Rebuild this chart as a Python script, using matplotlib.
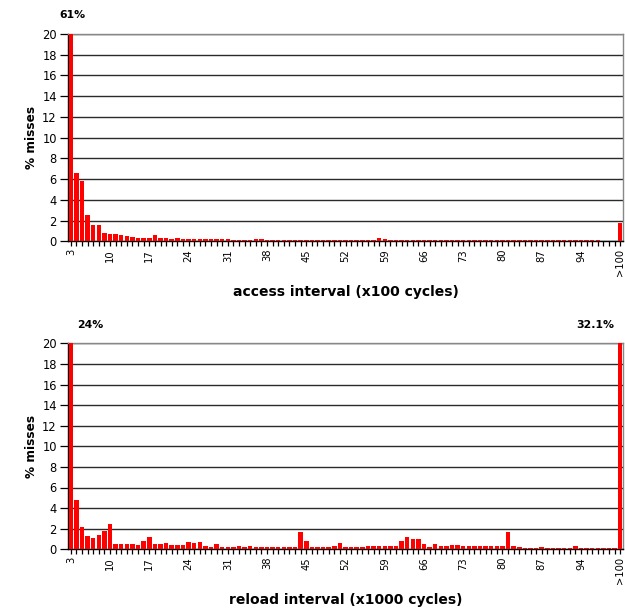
import matplotlib
matplotlib.use("Agg")
import matplotlib.pyplot as plt
import numpy as np

plt.rcParams['font.family'] = ['DejaVu Sans']

categories = [str(c) for c in range(3, 101)] + ['>100']

access_pct = [
    61, 6.6, 5.8, 2.5, 1.6, 1.6, 0.8, 0.7, 0.7, 0.6,
    0.5, 0.45, 0.35, 0.35, 0.35, 0.6, 0.3, 0.3, 0.25, 0.28,
    0.22, 0.22, 0.2, 0.2, 0.2, 0.18, 0.18, 0.18, 0.18, 0.17,
    0.15, 0.15, 0.15, 0.2, 0.2, 0.15, 0.15, 0.14, 0.14, 0.14,
    0.14, 0.13, 0.13, 0.13, 0.13, 0.13, 0.12, 0.12, 0.12, 0.12,
    0.12, 0.12, 0.12, 0.12, 0.15, 0.3, 0.2, 0.12, 0.12, 0.12,
    0.12, 0.12, 0.12, 0.12, 0.11, 0.11, 0.11, 0.11, 0.11, 0.11,
    0.11, 0.11, 0.11, 0.11, 0.1, 0.1, 0.1, 0.1, 0.1, 0.1,
    0.1, 0.1, 0.1, 0.1, 0.1, 0.1, 0.1, 0.1, 0.1, 0.1,
    0.1, 0.1, 0.1, 0.1, 0.1, 0, 0, 0, 1.8,
]

reload_pct = [
    24, 4.8, 2.2, 1.3, 1.05, 1.35, 1.75, 2.5, 0.55, 0.5,
    0.55, 0.5, 0.45, 0.8, 1.2, 0.5, 0.5, 0.65, 0.4, 0.4,
    0.45, 0.75, 0.65, 0.75, 0.35, 0.25, 0.5, 0.25, 0.25, 0.25,
    0.3, 0.25, 0.3, 0.25, 0.25, 0.25, 0.2, 0.2, 0.2, 0.2,
    0.22, 1.7, 0.8, 0.2, 0.2, 0.2, 0.2, 0.35, 0.6, 0.25,
    0.25, 0.25, 0.25, 0.3, 0.3, 0.3, 0.3, 0.3, 0.3, 0.8,
    1.2, 1.0, 1.0, 0.55, 0.25, 0.55, 0.3, 0.3, 0.4, 0.4,
    0.35, 0.35, 0.35, 0.35, 0.3, 0.3, 0.3, 0.3, 1.7, 0.35,
    0.2, 0.1, 0.1, 0.1, 0.2, 0.12, 0.12, 0.12, 0.12, 0.15,
    0.3, 0.15, 0.15, 0.12, 0.1, 0.1, 0.1, 0.1, 32.1,
]

access_xlabel = 'access interval (x100 cycles)'
reload_xlabel = 'reload interval (x1000 cycles)'
ylabel = '% misses'

# annotations for clipped bars: (category index, label x offset in categories)
access_notes = [(0, 0.3)]
reload_notes = [(0, 3.4), (98, -4.4)]

W, H = 625, 609
fig = plt.figure(figsize=(W / 100, H / 100), dpi=100)

def draw(ax, values, xlabel, notes):
    x = np.arange(len(categories))
    ax.bar(x, values, width=0.8, color='#ff0000', edgecolor='none', zorder=3)
    ax.set_xlim(-0.5, len(categories) - 0.5)
    ax.set_ylim(0, 20)
    ax.set_yticks(np.arange(0, 21, 2))
    ax.yaxis.grid(True, color='#2a2a2a', linewidth=1.0, zorder=0)
    ax.set_axisbelow(True)
    ax.set_xticks(x, minor=True)
    ax.set_xticks(x[::7])
    ax.set_xticklabels(categories[::7], rotation=90, fontsize=7.2)
    ax.tick_params(axis='x', which='both', length=3.5, width=0.9, direction='out', color='black', pad=2)
    ax.tick_params(axis='y', length=5.5, width=0.9, labelsize=8.3, pad=2.5)
    ax.spines['left'].set_color('black')
    ax.spines['bottom'].set_color('black')
    ax.spines['right'].set_color('#888888')
    ax.spines['top'].set_color('#888888')
    for s in ax.spines.values():
        s.set_linewidth(1.0)
    ax.set_ylabel(ylabel, fontsize=8.7, fontweight='bold', labelpad=3)
    ax.set_xlabel(xlabel, fontsize=10, fontweight='bold', labelpad=6.5)
    for idx, off in notes:
        ax.text(idx + off, 21.8, f"{values[idx]:g}%", ha='center', va='center',
                fontsize=7.8, fontweight='bold', clip_on=False)

ax1 = fig.add_axes([68 / W, 1 - 241.3 / H, 555 / W, (241.3 - 34) / H])
draw(ax1, access_pct, access_xlabel, access_notes)

ax2 = fig.add_axes([68 / W, 1 - 549.3 / H, 555 / W, (549.3 - 343.3) / H])
draw(ax2, reload_pct, reload_xlabel, reload_notes)

fig.savefig('out.png', dpi=100)
